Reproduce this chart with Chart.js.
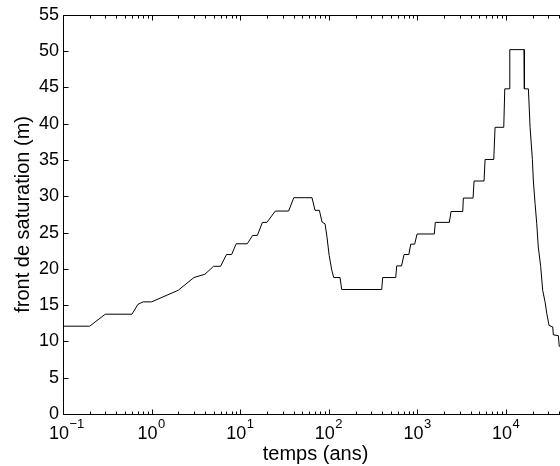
<!DOCTYPE html>
<html><head><meta charset="utf-8">
<script src="https://cdn.jsdelivr.net/npm/chart.js@4.4.0/dist/chart.umd.min.js"></script>
<style>
html,body{margin:0;padding:0;background:#fff;overflow:hidden;width:560px;height:466px}
#wrap{position:relative;width:575px;height:466px}
</style>
</head><body><div id="wrap"><canvas id="c" width="575" height="466"></canvas></div>
<script>
// time (years) of each vertex of the curve
const times = [0.1, 0.2, 0.3, 0.6, 0.7, 0.8, 1.0, 2.0, 3.0, 4.0, 5.0, 6.0, 7.0, 8.0, 9.0,
  12, 13.8, 15.6, 17.8, 20, 24.9, 35.2, 40.2, 64.6, 69.8, 78.2, 83.8, 90.6, 95, 101, 108, 113.5,
  133.7, 139.7, 395, 405, 569, 583, 661, 706, 800, 840, 930, 990, 1550, 1590,
  2290, 2395, 3245, 3296, 4240, 4353, 5645, 5795, 7263, 7516, 9420, 9670, 10810, 11020,
  15970, 16100, 17870, 18670, 19820, 20330, 21250, 22200, 23100, 24600, 25900, 27540,
  28800, 30570, 33650, 34150, 38900, 39900];
// saturation front (m)
const front = [12.1, 12.1, 13.75, 13.75, 15.1, 15.45, 15.45, 17.05, 18.8, 19.26, 20.35, 20.35, 21.97, 21.97, 23.45,
  23.45, 24.6, 24.6, 26.4, 26.4, 27.96, 27.96, 29.8, 29.8, 28.06, 28.06, 26.45, 26.2, 24.5, 21.8, 19.8, 18.8,
  18.8, 17.15, 17.15, 18.8, 18.8, 20.4, 20.4, 21.97, 21.97, 23.4, 23.4, 24.8, 24.8, 26.4,
  26.4, 27.9, 27.9, 29.75, 29.75, 32.1, 32.1, 35.07, 35.07, 39.5, 39.5, 44.8, 44.8, 50.2,
  50.2, 44.8, 44.8, 39.5, 35.07, 32.1, 29.0, 26.2, 23.0, 20.3, 17.05, 15.45,
  13.85, 12.2, 12.0, 10.9, 10.8, 9.25];

const xDecades = [0.1, 1, 10, 100, 1000, 10000];
const xExponents = ['\u22121', '0', '1', '2', '3', '4'];
const xMinorMult = [2, 3, 4, 5, 6, 7, 8, 9];
const yTicks = [0, 5, 10, 15, 20, 25, 30, 35, 40, 45, 50, 55];
const X_MIN = 0.1, X_MAX = 5e4, Y_MIN = 0, Y_MAX = 55;

const FONT = 'Liberation Sans, Arial, Helvetica, sans-serif';
const TICK_SIZE = 18, TITLE_SIZE = 20, X_PAD = 9, X_LABEL_OFF = -4;

const points = times.map((t, i) => ({x: t, y: front[i]}));

const framePlugin = {
  id: 'frame',
  afterDraw(chart) {
    const ctx = chart.ctx, a = chart.chartArea;
    const xs = chart.scales.x, ys = chart.scales.y;
    ctx.save();
    ctx.strokeStyle = '#000';
    ctx.lineWidth = 1;
    const L = Math.round(a.left) + 0.5, T = Math.round(a.top) + 0.5,
          B = Math.round(a.bottom) + 0.5, R = Math.round(a.right) + 0.5;
    ctx.beginPath();
    ctx.moveTo(L, T); ctx.lineTo(R, T); ctx.lineTo(R, B); ctx.lineTo(L, B); ctx.closePath();
    ctx.stroke();
    ctx.beginPath();
    const tickX = (v, len) => {
      const p = Math.round(xs.getPixelForValue(v)) + 0.5;
      ctx.moveTo(p, B); ctx.lineTo(p, B - len);
      ctx.moveTo(p, T); ctx.lineTo(p, T + len);
    };
    xDecades.forEach(d => {
      tickX(d, 5);
      xMinorMult.forEach(m => { const v = d * m; if (v < X_MAX) tickX(v, 3); });
    });
    yTicks.forEach(v => {
      const p = Math.round(ys.getPixelForValue(v)) + 0.5;
      ctx.moveTo(L, p); ctx.lineTo(L + 5, p);
      ctx.moveTo(R, p); ctx.lineTo(R - 5, p);
    });
    ctx.stroke();
    // exponents of the x tick labels
    ctx.fillStyle = '#000';
    ctx.textBaseline = 'top';
    ctx.textAlign = 'left';
    ctx.font = TICK_SIZE + 'px ' + FONT;
    const w10 = ctx.measureText('10').width;
    ctx.font = Math.round(TICK_SIZE * 0.7) + 'px ' + FONT;
    const labelTop = xs.top + X_PAD;
    xDecades.forEach((d, i) => {
      const px = xs.getPixelForValue(d) + X_LABEL_OFF;
      ctx.fillText(xExponents[i], px + w10 / 2 + 0.5, labelTop - 5);
    });
    ctx.restore();
  }
};

new Chart(document.getElementById('c'), {
  type: 'line',
  data: {
    datasets: [{
      data: points,
      borderColor: '#000',
      borderWidth: 1,
      pointRadius: 0,
      fill: false,
      tension: 0
    }]
  },
  options: {
    responsive: false,
    animation: false,
    layout: {padding: {top: 14, right: 7, left: 0, bottom: 0}},
    plugins: {legend: {display: false}, tooltip: {enabled: false}},
    scales: {
      x: {
        type: 'logarithmic', min: X_MIN, max: X_MAX,
        afterBuildTicks: s => { s.ticks = xDecades.map(v => ({value: v, major: true})); },
        afterFit: s => { s.height = 52; },
        grid: {display: false, drawTicks: false},
        border: {display: false},
        ticks: {
          color: '#000', font: {family: FONT, size: TICK_SIZE}, padding: X_PAD,
          maxRotation: 0, minRotation: 0, autoSkip: false, labelOffset: X_LABEL_OFF,
          callback: () => '10'
        },
        title: {display: true, text: 'temps (ans)', color: '#000',
          font: {family: FONT, size: TITLE_SIZE}, padding: {top: 0, bottom: 0}}
      },
      y: {
        min: Y_MIN, max: Y_MAX,
        afterBuildTicks: s => { s.ticks = yTicks.map(v => ({value: v})); },
        afterFit: s => { s.width = 63; },
        grid: {display: false, drawTicks: false},
        border: {display: false},
        ticks: {color: '#000', font: {family: FONT, size: TICK_SIZE}, padding: 4,
          autoSkip: false, callback: v => String(v)},
        title: {display: true, text: 'front de saturation (m)', color: '#000',
          font: {family: FONT, size: TITLE_SIZE}, padding: {top: 11, bottom: 0}}
      }
    }
  },
  plugins: [framePlugin]
});
</script>
</body></html>
